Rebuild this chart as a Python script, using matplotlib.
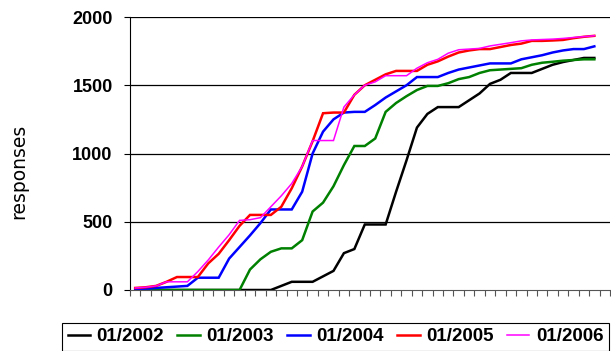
import numpy as np
import matplotlib
matplotlib.use("Agg")
import matplotlib.pyplot as plt

plt.rcParams['font.family'] = ['Liberation Sans', 'DejaVu Sans']

# cumulative responses per period, one list per survey start
series_labels = ["01/2002", "01/2003", "01/2004", "01/2005", "01/2006"]
series_colors = ["#000000", "#008000", "#0000FF", "#FF0000", "#FF00FF"]
series_widths = [1.8, 1.8, 1.8, 1.8, 1.1]

resp_2002 = [0, 0, 0, 0, 0, 0, 0, 0, 0, 0, 0, 0, 0, 0, 30, 60, 60, 60, 100, 140,
             270, 300, 480, 480, 480, 720, 950, 1190, 1290, 1340, 1340, 1340, 1390,
             1440, 1510, 1540, 1590, 1590, 1590, 1620, 1650, 1670, 1685, 1700, 1700]
resp_2003 = [0, 0, 0, 0, 0, 0, 0, 0, 0, 0, 0, 150, 225, 280, 305, 305, 365, 575,
             640, 760, 915, 1055, 1055, 1110, 1305, 1370, 1420, 1465, 1495, 1495,
             1515, 1545, 1560, 1590, 1610, 1615, 1620, 1625, 1650, 1665, 1672, 1680,
             1685, 1690, 1690]
resp_2004 = [5, 10, 15, 20, 25, 30, 90, 90, 90, 230, 315, 400, 490, 590, 590, 590,
             720, 1000, 1160, 1250, 1300, 1305, 1305, 1355, 1410, 1455, 1500, 1560,
             1560, 1560, 1590, 1615, 1630, 1645, 1660, 1660, 1660, 1690, 1705, 1720,
             1740, 1755, 1765, 1765, 1785]
resp_2005 = [15, 20, 30, 60, 95, 95, 95, 195, 265, 365, 470, 550, 550, 550, 610,
             745, 905, 1090, 1295, 1300, 1300, 1430, 1500, 1540, 1580, 1605, 1605,
             1605, 1650, 1675, 1710, 1740, 1755, 1765, 1765, 1780, 1795, 1805, 1825,
             1825, 1828, 1832, 1845, 1855, 1862]
resp_2006 = [15, 20, 30, 60, 60, 60, 135, 220, 315, 405, 510, 515, 530, 610, 690,
             780, 905, 1095, 1095, 1095, 1340, 1430, 1500, 1525, 1570, 1570, 1570,
             1625, 1665, 1690, 1735, 1760, 1765, 1770, 1788, 1800, 1812, 1825, 1832,
             1835, 1838, 1843, 1850, 1856, 1863]
all_series = [resp_2002, resp_2003, resp_2004, resp_2005, resp_2006]

n_categories = 46
y_ticks = [0, 500, 1000, 1500, 2000]

W, H = 611, 351
fig = plt.figure(figsize=(W / 100, H / 100), dpi=100)
ax = fig.add_axes([130 / W, 1 - 290 / H, 480 / W, 273 / H])

for vals, lab, col, lw in zip(all_series, series_labels, series_colors, series_widths):
    ax.plot(np.arange(len(vals)), vals, color=col, lw=lw, label=lab,
            solid_joinstyle='miter', zorder=3)

ax.set_xlim(-0.5, n_categories - 0.5)
ax.set_ylim(0, 2000)
ax.set_yticks(y_ticks)
ax.set_yticklabels([str(t) for t in y_ticks], fontweight='bold', fontsize=13)
ax.set_xticks(np.arange(n_categories + 1) - 0.5)
ax.set_xticklabels([])
ax.tick_params(axis='y', direction='out', length=4.5, width=0.8, pad=8)
ax.tick_params(axis='x', direction='out', length=4.5, width=0.8, color='#555555')

for t in y_ticks[1:]:
    ax.axhline(t, color='black', lw=0.9, zorder=1)

ax.spines['right'].set_visible(False)
ax.spines['top'].set_visible(False)
ax.spines['left'].set_color('black')
ax.spines['bottom'].set_color('#555555')
ax.spines['left'].set_linewidth(0.8)
ax.spines['bottom'].set_linewidth(0.8)

fig.text(19 / W, 1 - 171 / H, "responses", rotation=90, fontsize=13.5,
         family='DejaVu Sans', ha='center', va='center')

leg = fig.legend(loc='upper left', bbox_to_anchor=(62 / W, 0, 547 / W, 1 - 322.5 / H),
                 mode='expand', ncol=5, frameon=True, fancybox=False,
                 edgecolor='black', framealpha=1, handlelength=1.2,
                 handletextpad=0.35, borderpad=0.3, borderaxespad=0,
                 prop={'weight': 'bold', 'size': 13.5})
leg.get_frame().set_linewidth(0.8)

fig.savefig("out.png", dpi=100)
